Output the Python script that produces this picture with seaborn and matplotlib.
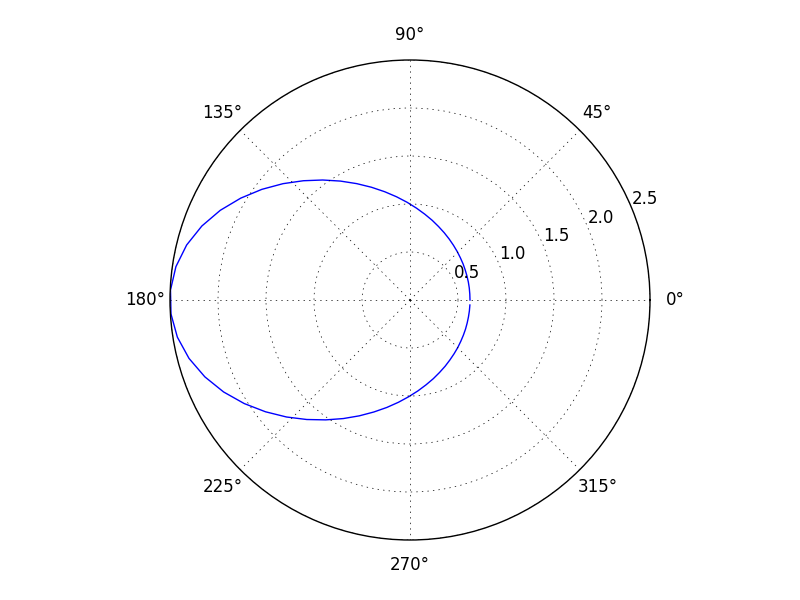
import seaborn as sns
import matplotlib
matplotlib.use("Agg")
import matplotlib.pyplot as plt

# angles (rad) and radius
theta = [0.0, 0.1, 0.2, 0.3, 0.4, 0.5, 0.6, 0.7, 0.8, 0.9,
         1.0, 1.1, 1.2, 1.3, 1.4, 1.5, 1.6, 1.7, 1.8, 1.9,
         2.0, 2.1, 2.2, 2.3, 2.4, 2.5, 2.6, 2.7, 2.8, 2.9,
         3.0, 3.1, 3.2, 3.3, 3.4, 3.5, 3.6, 3.7, 3.8, 3.9,
         4.0, 4.1, 4.2, 4.3, 4.4, 4.5, 4.6, 4.7, 4.8, 4.9,
         5.0, 5.1, 5.2, 5.3, 5.4, 5.5, 5.6, 5.7, 5.8, 5.9,
         6.0, 6.1, 6.2]
radius = [0.625, 0.626, 0.630, 0.636, 0.644, 0.655, 0.669, 0.685, 0.705, 0.728,
          0.755, 0.786, 0.821, 0.862, 0.907, 0.959, 1.018, 1.084, 1.158, 1.241,
          1.333, 1.435, 1.546, 1.666, 1.794, 1.926, 2.058, 2.186, 2.301, 2.396,
          2.463, 2.497, 2.494, 2.454, 2.381, 2.282, 2.165, 2.036, 1.903, 1.772,
          1.645, 1.526, 1.417, 1.317, 1.226, 1.145, 1.072, 1.007, 0.950, 0.899,
          0.855, 0.815, 0.781, 0.750, 0.724, 0.702, 0.682, 0.666, 0.653, 0.642,
          0.634, 0.629, 0.626]

r_ticks = [0.5, 1.0, 1.5, 2.0, 2.5]
r_ticklabels = ["0.5", "1.0", "1.5", "2.0", "2.5"]

plt.style.use("classic")
plt.rcParams["font.family"] = ["DejaVu Sans"]

fig = plt.figure(figsize=(8, 6), dpi=100)
ax = fig.add_subplot(111, projection="polar")

sns.lineplot(x=theta, y=radius, sort=False, estimator=None,
             color="blue", linewidth=1.0, ax=ax)

ax.set_rmax(2.5)
ax.set_rticks(r_ticks)
ax.set_yticklabels(r_ticklabels)
ax.set_rlabel_position(22.5)
ax.tick_params(axis="x", pad=11)
ax.grid(True, color="k", linestyle=":", linewidth=0.5)

fig.savefig("out.png", dpi=100)
